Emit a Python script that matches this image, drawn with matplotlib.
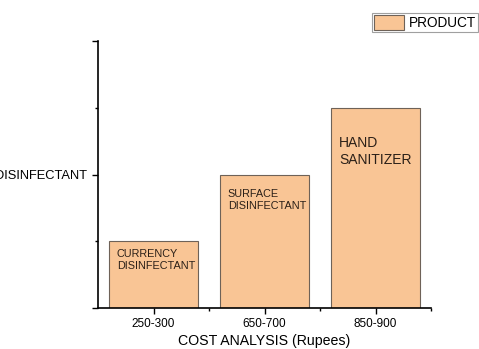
import matplotlib.pyplot as plt
from matplotlib.ticker import FixedLocator

plt.rcParams["font.family"] = ["Liberation Sans", "DejaVu Sans"]

cost_ranges = ["250-300", "650-700", "850-900"]
levels = [1, 2, 3]
products = ["CURRENCY\nDISINFECTANT", "SURFACE\nDISINFECTANT", "HAND\nSANITIZER"]
y_ticks = [0, 2, 4]
y_tick_labels = ["", "DISINFECTANT", ""]

# text styling per bar (size, drop below bar top in data units, line spacing)
label_sizes = [7.8, 7.8, 10]
label_drops = [0.12, 0.22, 0.42]
label_spacing = [1.2, 1.2, 1.3]

bar_color = "#f9c595"
edge_color = "#6e6258"

fig = plt.figure(figsize=(4.79, 3.49), dpi=100)
ax = fig.add_axes([0.2046, 0.1175, 0.6952, 0.765])

x = list(range(len(cost_ranges)))
ax.bar(x, levels, width=0.8, color=bar_color, edgecolor=edge_color,
       linewidth=0.8, label="PRODUCT")

for xi, h, name, fs, drop, ls in zip(x, levels, products, label_sizes,
                                     label_drops, label_spacing):
    ax.text(xi - 0.33, h - drop, name, ha="left", va="top",
            fontsize=fs, color="#2b2018", linespacing=ls)

ax.set_xlim(-0.5, 2.5)
ax.set_ylim(0, 4)
ax.set_xticks(x)
ax.set_xticklabels(cost_ranges, fontsize=8.5)
ax.xaxis.set_minor_locator(FixedLocator([0.5, 1.5, 2.5]))
ax.set_yticks(y_ticks)
ax.set_yticklabels(y_tick_labels, fontsize=9.3)
ax.yaxis.set_minor_locator(FixedLocator([1, 3]))

ax.tick_params(which="major", length=4, width=1, direction="out", pad=3)
ax.tick_params(axis="y", which="major", pad=4)
ax.tick_params(which="minor", length=2, width=1, direction="out")

for side in ["top", "right"]:
    ax.spines[side].set_visible(False)
for side in ["left", "bottom"]:
    ax.spines[side].set_linewidth(1.2)

ax.set_xlabel("COST ANALYSIS (Rupees)", fontsize=10.2, labelpad=3)

leg = fig.legend(loc="upper left", bbox_to_anchor=(0.776, 0.962),
                 fontsize=9.8, frameon=True, fancybox=False,
                 handlelength=2.25, handleheight=1.3, borderpad=0.15,
                 handletextpad=0.35, borderaxespad=0)
leg.get_frame().set_edgecolor("#888888")
leg.get_frame().set_linewidth(0.8)

fig.savefig("out.png", dpi=100)
